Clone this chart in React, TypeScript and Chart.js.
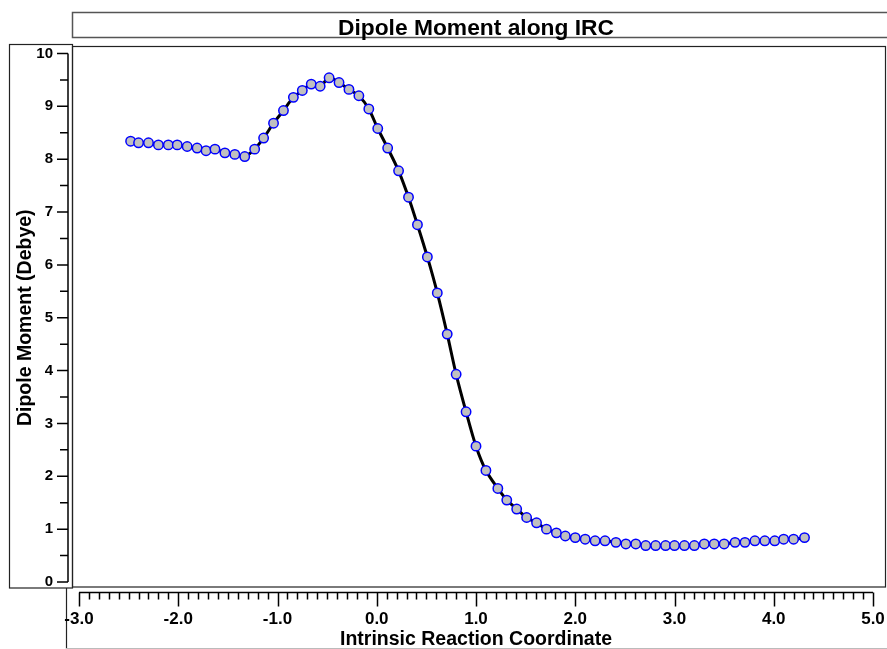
import React, { useEffect, useRef } from 'react';
import { Chart, registerables } from 'chart.js';

Chart.register(...registerables);

// Intrinsic reaction coordinate (x) of each computed point
const ircCoordinates: number[] = [
  -2.48, -2.40, -2.30, -2.20, -2.10, -2.01, -1.91, -1.81, -1.72, -1.63,
  -1.53, -1.43, -1.33, -1.23, -1.14, -1.04, -0.94, -0.84, -0.75, -0.66,
  -0.57, -0.48, -0.38, -0.28, -0.18, -0.08, 0.01, 0.11, 0.22, 0.32,
  0.41, 0.51, 0.61, 0.71, 0.80, 0.90, 1.00, 1.10, 1.22, 1.31,
  1.41, 1.51, 1.61, 1.71, 1.81, 1.90, 2.00, 2.10, 2.20, 2.30,
  2.41, 2.51, 2.61, 2.71, 2.81, 2.91, 3.00, 3.10, 3.20, 3.30,
  3.40, 3.50, 3.61, 3.71, 3.81, 3.91, 4.01, 4.10, 4.20, 4.31,
];

// Dipole moment (Debye) at each point
const dipoleMoment: number[] = [
  8.34, 8.31, 8.31, 8.27, 8.27, 8.27, 8.24, 8.21, 8.16, 8.19,
  8.12, 8.09, 8.05, 8.19, 8.40, 8.68, 8.92, 9.17, 9.30, 9.42,
  9.38, 9.54, 9.45, 9.32, 9.20, 8.95, 8.58, 8.21, 7.78, 7.28,
  6.76, 6.15, 5.47, 4.69, 3.93, 3.22, 2.57, 2.11, 1.77, 1.55,
  1.38, 1.22, 1.12, 1.00, 0.93, 0.87, 0.84, 0.81, 0.78, 0.78,
  0.75, 0.72, 0.72, 0.69, 0.69, 0.69, 0.69, 0.69, 0.69, 0.72,
  0.72, 0.72, 0.75, 0.75, 0.78, 0.78, 0.78, 0.81, 0.81, 0.84,
];

const xMin = -3;
const xMax = 5;
const yMin = 0;
const yMax = 10;

const chartTitle = 'Dipole Moment along IRC';
const xTitle = 'Intrinsic Reaction Coordinate';
const yTitle = 'Dipole Moment (Debye)';

const SANS = "'Liberation Sans', Arial, Helvetica, sans-serif";

const framePlugin = {
  id: 'frames',
  beforeDraw(chart: any) {
    const { ctx } = chart;
    const xs = chart.scales.x;
    const ys = chart.scales.y;
    ctx.save();
    ctx.lineCap = 'butt';

    // title box (open on the right)
    ctx.strokeStyle = '#555';
    ctx.lineWidth = 1.5;
    ctx.beginPath();
    ctx.moveTo(887, 12.5);
    ctx.lineTo(72.5, 12.5);
    ctx.lineTo(72.5, 37.5);
    ctx.lineTo(887, 37.5);
    ctx.stroke();

    // y-axis box
    ctx.strokeStyle = '#222';
    ctx.lineWidth = 1.2;
    ctx.strokeRect(9.5, 44.5, 63, 543.5);

    // plot box
    ctx.strokeRect(72.5, 46.5, 813, 540.5);

    // x-axis box
    ctx.beginPath();
    ctx.moveTo(66.5, 588);
    ctx.lineTo(66.5, 649);
    ctx.stroke();
    ctx.strokeStyle = '#bbb';
    ctx.beginPath();
    ctx.moveTo(66, 648.5);
    ctx.lineTo(887, 648.5);
    ctx.stroke();

    // y axis line and ticks
    ctx.strokeStyle = '#000';
    ctx.lineWidth = 1.5;
    const axX = 68;
    ctx.beginPath();
    ctx.moveTo(axX, ys.getPixelForValue(yMax));
    ctx.lineTo(axX, ys.getPixelForValue(yMin));
    for (let i = 0; i <= (yMax - yMin) * 2; i++) {
      const v = yMin + i * 0.5;
      const py = ys.getPixelForValue(v);
      const len = i % 2 === 0 ? 11 : 8;
      ctx.moveTo(axX, py);
      ctx.lineTo(axX - len, py);
    }
    ctx.stroke();

    // x axis line and ticks
    const axY = 592.5;
    ctx.beginPath();
    ctx.moveTo(xs.getPixelForValue(xMin), axY);
    ctx.lineTo(xs.getPixelForValue(xMax), axY);
    for (let i = 0; i <= (xMax - xMin) * 10; i++) {
      const v = xMin + i / 10;
      const px = Math.round(xs.getPixelForValue(v)) + 0.5;
      const len = i % 10 === 0 ? 14 : 7;
      ctx.moveTo(px, axY);
      ctx.lineTo(px, axY + len);
    }
    ctx.stroke();

    ctx.restore();
  },
};

export default function App() {
  const canvasRef = useRef<HTMLCanvasElement | null>(null);

  useEffect(() => {
    const canvas = canvasRef.current;
    if (!canvas) return;
    const points = ircCoordinates.map((x, i) => ({ x, y: dipoleMoment[i] }));

    const chart = new Chart(canvas, {
      type: 'line',
      data: {
        datasets: [
          {
            label: 'Dipole Moment',
            data: points,
            borderColor: '#000000',
            borderWidth: 3,
            tension: 0.3,
            fill: false,
            pointRadius: 4.7,
            pointBackgroundColor: '#c0c0c0',
            pointBorderColor: '#0000ff',
            pointBorderWidth: 1.5,
          },
        ],
      },
      options: {
        responsive: false,
        devicePixelRatio: 1,
        animation: false,
        layout: { padding: { left: 9, right: 14, top: 0, bottom: 0 } },
        plugins: {
          legend: { display: false },
          tooltip: { enabled: false },
          title: {
            display: true,
            text: chartTitle,
            fullSize: false,
            color: '#000',
            font: { family: SANS, size: 22.8, weight: 'bold', lineHeight: 1.2 },
            padding: { top: 14.8, bottom: 11.3 },
          },
        },
        scales: {
          x: {
            type: 'linear',
            min: xMin,
            max: xMax,
            grid: { display: false, drawTicks: false },
            border: { display: false },
            ticks: {
              stepSize: 1,
              autoSkip: false,
              maxRotation: 0,
              color: '#000',
              padding: 27,
              font: { family: SANS, size: 17, weight: 'bold' },
              callback: (v: any) => Number(v).toFixed(1),
            },
            title: {
              display: true,
              text: xTitle,
              color: '#000',
              font: { family: SANS, size: 19.5, weight: 'bold', lineHeight: 1 },
              padding: 0,
            },
            afterFit: (s: any) => {
              s.height = 67;
              s.paddingLeft = 0;
              s.paddingRight = 0;
            },
          },
          y: {
            type: 'linear',
            min: yMin,
            max: yMax,
            grid: { display: false, drawTicks: false },
            border: { display: false },
            ticks: {
              stepSize: 1,
              color: '#000',
              padding: 26,
              font: { family: SANS, size: 15, weight: 'bold' },
            },
            title: {
              display: true,
              text: yTitle,
              color: '#000',
              font: { family: SANS, size: 19.5, weight: 'bold', lineHeight: 1.2 },
              padding: { top: 4.6, bottom: 0 },
            },
            afterFit: (s: any) => {
              s.width = 70;
              s.paddingTop = 0;
              s.paddingBottom = 0;
            },
          },
        },
      },
      plugins: [framePlugin],
    });

    return () => chart.destroy();
  }, []);

  return (
    <div style={{ position: 'absolute', left: 0, top: 0, width: 887, height: 649, background: '#fff' }}>
      <canvas ref={canvasRef} width={887} height={649} style={{ display: 'block', width: 887, height: 649 }} />
    </div>
  );
}
